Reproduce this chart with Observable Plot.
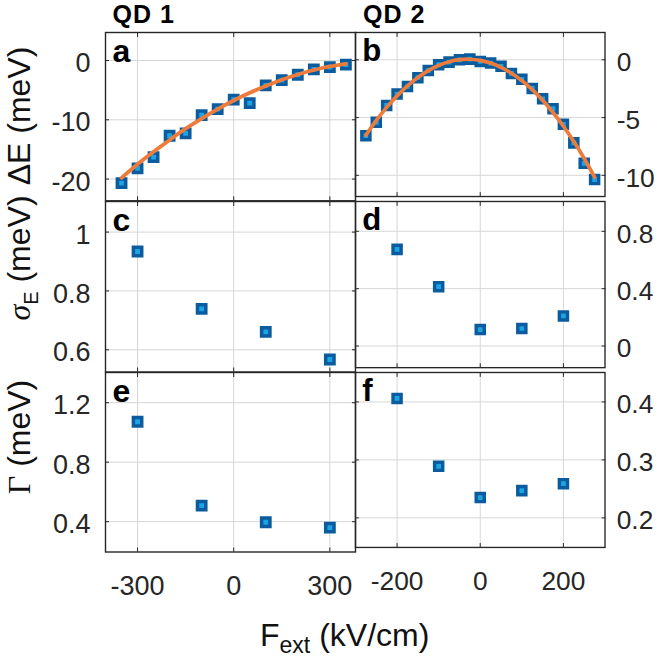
<!DOCTYPE html>
<html><head><meta charset="utf-8">
<script src="https://cdn.jsdelivr.net/npm/d3@7"></script>
<script src="https://cdn.jsdelivr.net/npm/@observablehq/plot@0.6"></script>
<style>
body{margin:0;background:#fff;}
#chart{position:relative;width:663px;height:659px;font-family:"Liberation Sans",Arial,sans-serif;overflow:hidden;}
#chart .p{position:absolute;}
#chart svg{overflow:visible;}
</style></head><body><div id="chart"></div>
<script>
// ---- data ----
const fieldQD1 = [-350,-300,-250,-200,-150,-100,-50,0,50,100,150,200,250,300,350];
const deltaE_QD1 = [-20.7,-18.2,-16.3,-12.7,-12.3,-9.2,-8.2,-6.6,-7.2,-4.2,-3.3,-2.4,-1.5,-1.1,-0.7];
const fit_QD1 = [-19.8,-17.5,-15.4,-13.4,-11.5,-9.8,-8.2,-6.75,-5.45,-4.3,-3.25,-2.35,-1.6,-1.0,-0.55];

const fieldQD2 = [-275,-250,-225,-200,-175,-150,-125,-100,-75,-50,-25,0,25,50,75,100,125,150,175,200,225,250,275];
const deltaE_QD2 = [-6.57,-5.41,-3.95,-2.96,-2.31,-1.55,-0.93,-0.42,-0.2,0,0.06,-0.14,-0.28,-0.56,-1.18,-1.69,-2.48,-3.38,-4.23,-5.58,-7.19,-8.96,-10.37];
const fit_QD2 = [-6.53,-5.25,-4.12,-3.12,-2.25,-1.53,-0.94,-0.49,-0.17,0.01,0.05,-0.05,-0.28,-0.65,-1.16,-1.80,-2.58,-3.50,-4.56,-5.75,-7.08,-8.54,-10.15];

const fieldQD1s = [-300,-100,100,300];
const sigma_QD1 = [0.934,0.739,0.661,0.567];
const gamma_QD1 = [1.072,0.508,0.396,0.36];

const fieldQD2s = [-200,-100,0,100,200];
const sigma_QD2 = [0.674,0.414,0.115,0.122,0.210];
const gamma_QD2 = [0.406,0.289,0.235,0.247,0.259];

const xTicksQD1 = [-300,0,300];
const xTicksQD2 = [-200,0,200];
const yTicksA = [-20,-10,0];
const yTicksB = [-10,-5,0];
const yTicksC = [0.6,0.8,1];
const yTicksD = [0,0.4,0.8];
const yTicksE = [0.4,0.8,1.2];
const yTicksF = [0.2,0.3,0.4];
const panelLetters = ["a","b","c","d","e","f"];
const columnTitles = ["QD 1","QD 2"];

// ---- layout ----
const cols = [{x0:105, x1:355, domain:[-400,380], ticks:xTicksQD1, side:"left"},
              {x0:355, x1:611, domain:[-300,300], ticks:xTicksQD2, side:"right"}];
const rows = [{y0:31.7, y1:200}, {y0:200.5, y1:371}, {y0:371.5, y1:551}];
const INK = "#262626";
const chart = document.getElementById("chart");

function zip(xs, ys){ return xs.map((x,i)=>({x, y:ys[i]})); }

function panel({col, row, yDomain, yTicks, points, fit, letter}){
  const c = cols[col], r = rows[row];
  const left = col === 0;
  const bottom = row === 2;
  const mL = left ? c.x0 : 0, mR = left ? 0 : 60;
  const width = (c.x1 - c.x0) + mL + mR;
  const height = r.y1 - r.y0;
  const fmt = d => String(d);
  const blank = () => "";
  const marks = [
    Plot.gridX(c.ticks, {stroke:"#d6d6d6", strokeOpacity:1, strokeWidth:1}),
    Plot.gridY(yTicks, {stroke:"#d6d6d6", strokeOpacity:1, strokeWidth:1}),
    Plot.dot(points, {x:"x", y:"y", symbol:"square", r:4.7, fill:"#1ba3e6", stroke:"#0b5c9e", strokeWidth:3.5}),
  ];
  if (fit) marks.push(Plot.line(fit, {x:"x", y:"y", stroke:"#ef7b3b", strokeWidth:3.8, curve:"natural"}));
  marks.push(
    // inward ticks on all sides
    Plot.axisY(yTicks, {anchor:"left", tickSize:-4, tickFormat:blank, label:null, stroke:INK}),
    Plot.axisY(yTicks, {anchor:"right", tickSize:-4, tickFormat:blank, label:null, stroke:INK}),
    Plot.axisX(c.ticks, {anchor:"top", tickSize:-4, tickFormat:blank, label:null, stroke:INK}),
    Plot.axisX(c.ticks, {anchor:"bottom", tickSize:-4, tickFormat:blank, label:null, stroke:INK}),
    // tick labels
    Plot.axisY(yTicks, {anchor:c.side, tickSize:0, tickPadding:left?15:12, tickFormat:fmt, label:null, fontSize:27, dy:3, fill:INK}),
    Plot.frame({stroke:INK, strokeWidth:1.4}),
    Plot.text([letter], {frameAnchor:"top-left", dx:7, dy:29.5, lineAnchor:"bottom", textAnchor:"start", fontSize:32, fontWeight:"bold", fill:"#000"})
  );
  if (bottom) marks.push(Plot.axisX(c.ticks, {anchor:"bottom", tickSize:0, tickPadding:24, tickFormat:fmt, label:null, fontSize:27, fill:INK}));
  const svg = Plot.plot({
    width, height,
    marginLeft:mL, marginRight:mR, marginTop:0, marginBottom:0,
    style:{fontFamily:'"Liberation Sans", Arial, sans-serif', overflow:"visible", background:"transparent"},
    x:{domain:c.domain, label:null},
    y:{domain:yDomain, label:null},
    marks
  });
  const div = document.createElement("div");
  div.className = "p";
  div.style.left = (left ? 0 : c.x0) + "px";
  div.style.top = r.y0 + "px";
  div.appendChild(svg);
  chart.appendChild(div);
}

panel({col:0,row:0,yDomain:[-23.67,4.73],yTicks:yTicksA,points:zip(fieldQD1,deltaE_QD1),fit:zip(fieldQD1,fit_QD1),letter:panelLetters[0]});
panel({col:1,row:0,yDomain:[-11.835,2.365],yTicks:yTicksB,points:zip(fieldQD2,deltaE_QD2),fit:zip(fieldQD2,fit_QD2),letter:panelLetters[1]});
panel({col:0,row:1,yDomain:[0.5244,1.104],yTicks:yTicksC,points:zip(fieldQD1s,sigma_QD1),letter:panelLetters[2]});
panel({col:1,row:1,yDomain:[-0.151,1.008],yTicks:yTicksD,points:zip(fieldQD2s,sigma_QD2),letter:panelLetters[3]});
panel({col:0,row:2,yDomain:[0.196,1.403],yTicks:yTicksE,points:zip(fieldQD1s,gamma_QD1),letter:panelLetters[4]});
panel({col:1,row:2,yDomain:[0.149,0.4508],yTicks:yTicksF,points:zip(fieldQD2s,gamma_QD2),letter:panelLetters[5]});

// ---- titles and axis labels ----
const ov = d3.select(chart).append("svg")
  .attr("width",663).attr("height",659)
  .style("position","absolute").style("left","0px").style("top","0px")
  .style("pointer-events","none")
  .style("font-family",'"Liberation Sans", Arial, sans-serif');

ov.append("text").attr("x",112.5).attr("y",22.5).attr("font-size",25).attr("font-weight","bold").attr("letter-spacing",1).text(columnTitles[0]);
ov.append("text").attr("x",363).attr("y",22.5).attr("font-size",25).attr("font-weight","bold").attr("letter-spacing",1).text(columnTitles[1]);

const t1 = ov.append("text").attr("transform","translate(29.5,116) rotate(-90)").attr("text-anchor","middle").attr("font-size",32).attr("fill","#111");
t1.text("ΔE (meV)");

const t2 = ov.append("text").attr("transform","translate(29.5,258) rotate(-90)").attr("text-anchor","middle").attr("font-size",32).attr("fill","#111");
t2.append("tspan").attr("font-family",'"Liberation Serif", serif').attr("font-style","italic").text("σ");
t2.append("tspan").attr("font-size",20).attr("dy",8).text("E");
t2.append("tspan").attr("dy",-8).text(" (meV)");

const t3 = ov.append("text").attr("transform","translate(29.5,437) rotate(-90)").attr("text-anchor","middle").attr("font-size",32).attr("fill","#111");
t3.append("tspan").attr("font-family",'"Liberation Serif", serif').text("Γ");
t3.append("tspan").text(" (meV)");

const t4 = ov.append("text").attr("x",260).attr("y",645.5).attr("font-size",32).attr("fill","#111");
t4.append("tspan").text("F");
t4.append("tspan").attr("font-size",23).attr("dy",7).text("ext");
t4.append("tspan").attr("dy",-7).text(" (kV/cm)");
</script>
</body></html>
